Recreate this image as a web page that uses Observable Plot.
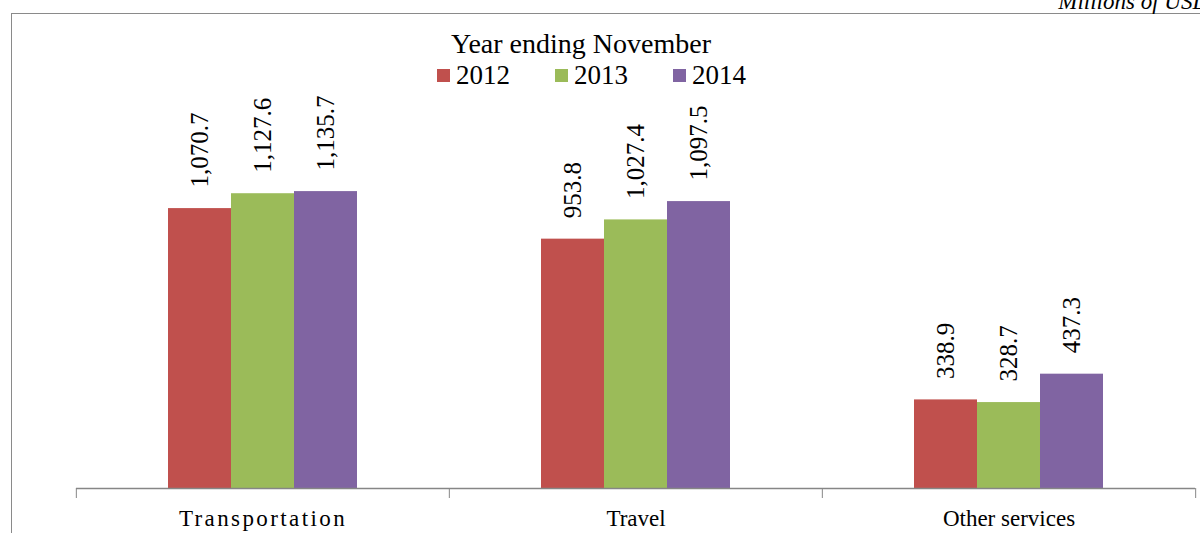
<!DOCTYPE html>
<html><head><meta charset="utf-8">
<script src="https://cdn.jsdelivr.net/npm/d3@7"></script>
<script src="https://cdn.jsdelivr.net/npm/@observablehq/plot@0.6"></script>
<style>
html,body{margin:0;padding:0;background:#fff;overflow:hidden;}
body{width:1200px;height:533px;position:relative;font-family:"Liberation Serif","Times New Roman",serif;color:#000;}
#chart{position:absolute;left:0;top:0;}
.frame{position:absolute;left:11px;top:13px;width:1300px;height:700px;border:1px solid #8a8a8a;pointer-events:none;z-index:2;}
.unit{position:absolute;right:-9px;top:-10px;font-style:italic;font-size:23px;line-height:23px;white-space:nowrap;z-index:3;}
.ltitle{position:absolute;left:381px;width:400px;text-align:center;top:30px;font-size:28px;line-height:28px;z-index:3;}
.legend{position:absolute;left:437px;top:62px;display:flex;gap:45px;font-size:27px;line-height:27px;z-index:3;}
.item{display:flex;align-items:center;}
.sw{width:13px;height:13px;margin-right:6px;}
</style>
</head><body>
<div class="unit">Millions of USD</div>
<div class="ltitle">Year ending November</div>
<div class="legend" id="legend"></div>
<div id="chart"></div>
<div class="frame"></div>
<script>
const categories = ["Transportation", "Travel", "Other services"];
const years = ["2012", "2013", "2014"];
const values2012 = [1070.7, 953.8, 338.9];
const values2013 = [1127.6, 1027.4, 328.7];
const values2014 = [1135.7, 1097.5, 437.3];
const colors = ["#C0504D", "#9BBB59", "#8064A2"];

const series = [values2012, values2013, values2014];
const rows = [];
categories.forEach((c, i) => years.forEach((y, j) => rows.push({category: c, year: y, value: series[j][i]})));

const W = 1200, ML = 75, MR = 5;
const step = (W - ML - MR) / categories.length;
const fmt = d3.format(",.1f");
const gray = "#868686";
const serif = "Liberation Serif";

const plot = Plot.plot({
  width: W, height: 533,
  marginLeft: ML, marginRight: MR, marginTop: 122, marginBottom: 45,
  fx: {domain: categories, padding: 0, label: null},
  x: {domain: years, paddingInner: 0, paddingOuter: 1.45, axis: null},
  y: {domain: [0, 1400], axis: null},
  color: {domain: years, range: colors},
  style: {fontFamily: serif, background: "transparent", color: "#000"},
  marks: [
    Plot.barY(rows, {fx: "category", x: "year", y: "value", fill: "year"}),
    Plot.ruleY([0], {stroke: gray, strokeWidth: 1.3}),
    Plot.text(rows, {fx: "category", x: "year", y: "value", text: d => fmt(d.value), rotate: -90, textAnchor: "start", dy: -21, fontSize: 25, fill: "#000"}),
    Plot.axisFx({anchor: "bottom", tickSize: 0, tickPadding: 21, fontSize: 23, label: null, fill: "#000"}),
    Plot.axisFx({anchor: "bottom", tickSize: 10, tickFormat: () => "", dx: -step / 2, stroke: gray, label: null}),
    Plot.axisFx({anchor: "bottom", ticks: [categories[categories.length - 1]], tickSize: 10, tickFormat: () => "", dx: step / 2, stroke: gray, label: null})
  ]
});
document.getElementById("chart").appendChild(plot);
const svg = d3.select(plot);
svg.selectAll("text").attr("font-family", serif);
svg.selectAll("text").filter(function() { return this.textContent === "Transportation"; }).attr("letter-spacing", "2.4px");

const legend = d3.select("#legend");
years.forEach((y, i) => {
  const it = legend.append("div").attr("class", "item");
  it.append("div").attr("class", "sw").style("background", colors[i]);
  it.append("span").text(y);
});
</script>
</body></html>
